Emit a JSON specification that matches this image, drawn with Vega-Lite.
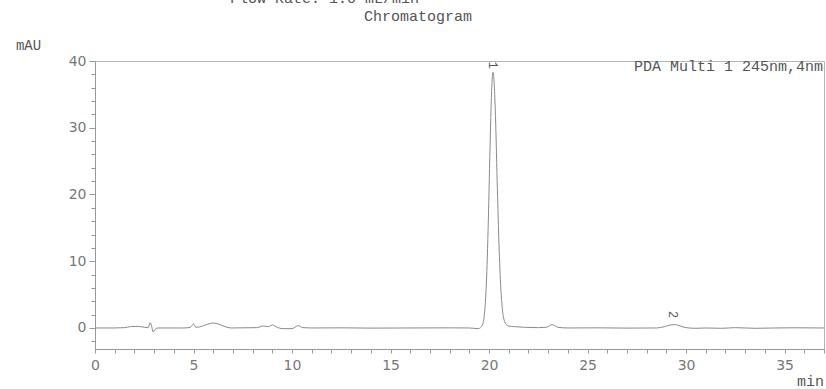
{
  "$schema": "https://vega.github.io/schema/vega-lite/v6.json",
  "width": 729,
  "height": 288,
  "autosize": {"type": "none"},
  "padding": {"left": 95, "top": 61, "right": 2, "bottom": 40},
  "background": "white",
  "datasets": {
    "trace": [
      {"t": 0, "mAU": 0}, {"t": 1.0, "mAU": 0}, {"t": 1.5, "mAU": 0.05}, {"t": 1.8, "mAU": 0.2},
      {"t": 2.2, "mAU": 0.25}, {"t": 2.5, "mAU": 0.1}, {"t": 2.7, "mAU": 0.05}, {"t": 2.8, "mAU": 0.8},
      {"t": 2.88, "mAU": 0.2}, {"t": 2.95, "mAU": -0.6}, {"t": 3.05, "mAU": -0.2}, {"t": 3.2, "mAU": 0},
      {"t": 4.5, "mAU": 0}, {"t": 4.85, "mAU": 0.1}, {"t": 5.0, "mAU": 0.6}, {"t": 5.12, "mAU": 0.1},
      {"t": 5.3, "mAU": 0.15}, {"t": 5.7, "mAU": 0.55}, {"t": 6.0, "mAU": 0.75}, {"t": 6.3, "mAU": 0.55},
      {"t": 6.6, "mAU": 0.2}, {"t": 6.9, "mAU": 0}, {"t": 8.2, "mAU": 0.05}, {"t": 8.55, "mAU": 0.3},
      {"t": 8.8, "mAU": 0.2}, {"t": 9.0, "mAU": 0.45}, {"t": 9.25, "mAU": 0.1}, {"t": 9.5, "mAU": -0.1},
      {"t": 10.0, "mAU": -0.1}, {"t": 10.3, "mAU": 0.35}, {"t": 10.55, "mAU": 0.05}, {"t": 11.0, "mAU": 0},
      {"t": 12.5, "mAU": 0.02}, {"t": 14.0, "mAU": -0.02}, {"t": 16.0, "mAU": 0}, {"t": 18.0, "mAU": 0.02},
      {"t": 19.0, "mAU": 0}, {"t": 19.45, "mAU": -0.1}, {"t": 19.6, "mAU": 0.15},
      {"t": 19.7, "mAU": 0.8}, {"t": 19.75, "mAU": 1.7}, {"t": 19.8, "mAU": 3.3}, {"t": 19.85, "mAU": 5.8},
      {"t": 19.9, "mAU": 9.5}, {"t": 19.95, "mAU": 14.6}, {"t": 20.0, "mAU": 20.6}, {"t": 20.05, "mAU": 27.1},
      {"t": 20.1, "mAU": 32.8}, {"t": 20.15, "mAU": 36.8}, {"t": 20.2, "mAU": 38.3}, {"t": 20.25, "mAU": 37.2},
      {"t": 20.3, "mAU": 34.0}, {"t": 20.35, "mAU": 29.3}, {"t": 20.4, "mAU": 23.3}, {"t": 20.45, "mAU": 17.9},
      {"t": 20.5, "mAU": 12.9}, {"t": 20.55, "mAU": 8.9}, {"t": 20.6, "mAU": 5.8}, {"t": 20.65, "mAU": 3.7},
      {"t": 20.7, "mAU": 2.2}, {"t": 20.8, "mAU": 0.9}, {"t": 20.9, "mAU": 0.45}, {"t": 21.0, "mAU": 0.3},
      {"t": 21.3, "mAU": 0.2}, {"t": 21.8, "mAU": 0.1}, {"t": 22.5, "mAU": 0.05}, {"t": 22.9, "mAU": 0.1},
      {"t": 23.2, "mAU": 0.5}, {"t": 23.5, "mAU": 0.1}, {"t": 24.0, "mAU": 0}, {"t": 25.5, "mAU": 0.02},
      {"t": 27.0, "mAU": -0.02}, {"t": 28.5, "mAU": 0}, {"t": 28.9, "mAU": 0.2}, {"t": 29.2, "mAU": 0.45},
      {"t": 29.45, "mAU": 0.5}, {"t": 29.7, "mAU": 0.3}, {"t": 30.0, "mAU": 0.05}, {"t": 30.5, "mAU": -0.05},
      {"t": 31.0, "mAU": 0}, {"t": 31.8, "mAU": -0.05}, {"t": 32.5, "mAU": 0.05}, {"t": 33.5, "mAU": -0.05},
      {"t": 34.5, "mAU": 0}, {"t": 35.5, "mAU": 0.03}, {"t": 37.0, "mAU": 0}
    ],
    "peaks": [
      {"t": 20.2, "mAU": 39.4, "label": "1"},
      {"t": 29.35, "mAU": 2.0, "label": "2"}
    ],
    "notes": [
      {"t": 37.0, "mAU": 39.2, "label": "PDA Multi 1 245nm,4nm"}
    ],
    "header": [
      {"t": 11.65, "mAU": 49.4, "label": "Flow Rate: 1.0 mL/min"},
      {"t": 16.4, "mAU": 46.7, "label": "Chromatogram"}
    ]
  },
  "encoding": {
    "x": {
      "field": "t",
      "type": "quantitative",
      "scale": {"domain": [0, 37], "nice": false, "zero": false},
      "axis": {
        "title": "min",
        "titleFont": "Liberation Mono",
        "titleFontSize": 15,
        "titleFontWeight": "normal",
        "titleColor": "#555",
        "titleX": 715,
        "titleY": 31,
        "titleAlign": "center",
        "titleBaseline": "middle",
        "values": [0,1,2,3,4,5,6,7,8,9,10,11,12,13,14,15,16,17,18,19,20,21,22,23,24,25,26,27,28,29,30,31,32,33,34,35,36,37],
        "labelExpr": "datum.value % 5 === 0 ? datum.label : ''",
        "labelFont": "DejaVu Sans",
        "labelFontSize": 14,
        "labelColor": "#777",
        "labelPadding": 5,
        "labelFlush": false,
        "labelOverlap": false,
        "tickSize": 4,
        "tickColor": "#999",
        "domainColor": "#999",
        "grid": false
      }
    },
    "y": {
      "field": "mAU",
      "type": "quantitative",
      "scale": {"domain": [-3.15, 40], "nice": false, "zero": false},
      "axis": {
        "title": "mAU",
        "titleFont": "Liberation Mono",
        "titleFontSize": 14,
        "titleFontWeight": "normal",
        "titleColor": "#555",
        "titleAngle": 0,
        "titleX": -67,
        "titleY": -16,
        "titleAlign": "center",
        "titleBaseline": "middle",
        "values": [-2,0,2,4,6,8,10,12,14,16,18,20,22,24,26,28,30,32,34,36,38,40],
        "labelExpr": "datum.value % 10 === 0 ? datum.label : ''",
        "labelFont": "DejaVu Sans",
        "labelFontSize": 14,
        "labelColor": "#777",
        "labelPadding": 3,
        "labelFlush": false,
        "labelOverlap": false,
        "tickSize": {"condition": {"test": "datum.value % 10 === 0", "value": 6}, "value": 4},
        "tickColor": "#999",
        "domainColor": "#999",
        "grid": false
      }
    }
  },
  "layer": [
    {
      "data": {"name": "trace"},
      "mark": {"type": "line", "color": "#8a8a8a", "strokeWidth": 1, "interpolate": "monotone"}
    },
    {
      "data": {"name": "peaks"},
      "mark": {"type": "text", "font": "Liberation Mono", "fontSize": 12, "angle": 90, "color": "#555", "align": "center", "baseline": "middle"},
      "encoding": {"text": {"field": "label"}}
    },
    {
      "data": {"name": "notes"},
      "mark": {"type": "text", "font": "Liberation Mono", "fontSize": 15, "color": "#555", "align": "right", "baseline": "middle", "dx": -1},
      "encoding": {"text": {"field": "label"}}
    },
    {
      "data": {"name": "header"},
      "mark": {"type": "text", "font": "Liberation Mono", "fontSize": 15, "color": "#555", "align": "center", "baseline": "middle"},
      "encoding": {"text": {"field": "label"}}
    }
  ],
  "config": {
    "view": {"stroke": "#b5b5b5", "strokeWidth": 1}
  }
}
